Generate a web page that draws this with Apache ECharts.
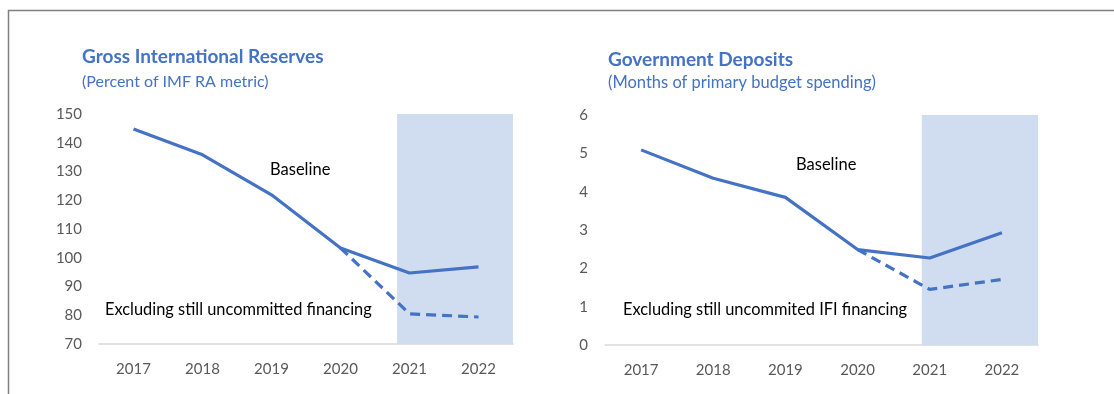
<!DOCTYPE html>
<html>
<head>
<meta charset="utf-8">
<script src="https://cdn.jsdelivr.net/npm/echarts@6/dist/echarts.min.js"></script>
<style>
html,body{margin:0;padding:0;background:#fff;}
#chart{width:1114px;height:394px;}
</style>
</head>
<body>
<div id="chart"></div>
<script>
// ---- data ----
var years = ['2017', '2018', '2019', '2020', '2021', '2022'];
var reservesBaseline = [144.8, 135.8, 121.9, 103.4, 94.7, 96.8];
var reservesExcluding = [null, null, null, 103.4, 80.5, 79.4];
var depositsBaseline = [5.09, 4.35, 3.85, 2.49, 2.27, 2.93];
var depositsExcluding = [null, null, null, 2.49, 1.45, 1.71];
// projection shading starts (in category-index units) and runs to the end
var reservesShadeStart = 3.82;
var depositsShadeStart = 3.89;

var BLUE = '#4472C4';
var FONT = 'Lato';
var chart = echarts.init(document.getElementById('chart'), null, {renderer: 'canvas'});

function catAxis(grid) {
  return {
    type: 'category', gridIndex: grid, data: years, boundaryGap: true,
    axisLine: {lineStyle: {color: '#D9D9D9', width: 1.5}},
    axisTick: {show: false},
    axisLabel: {color: '#595959', fontFamily: FONT, fontSize: 15, margin: 18}
  };
}
function valXAxis(grid) {
  return {type: 'value', gridIndex: grid, min: -0.5, max: 5.5, show: false};
}
function yAx(grid, min, max, step) {
  return {
    type: 'value', gridIndex: grid, min: min, max: max, interval: step,
    axisLine: {show: false}, axisTick: {show: false}, splitLine: {show: false},
    axisLabel: {color: '#595959', fontFamily: FONT, fontSize: 15, margin: 17}
  };
}
function shade(xi, yi, start) {
  return {
    type: 'line', xAxisIndex: xi, yAxisIndex: yi, data: [[start, null]], silent: true, z: 1,
    symbol: 'none',
    markArea: {silent: true, itemStyle: {color: '#D0DCF0'}, data: [[{xAxis: start}, {xAxis: 5.5}]]}
  };
}
function lineS(xi, yi, data, dashed) {
  return {
    type: 'line', xAxisIndex: xi, yAxisIndex: yi, data: data, symbol: 'none', z: 5,
    lineStyle: {color: BLUE, width: 3.2, type: dashed ? [10, 6] : 'solid', cap: 'butt'}
  };
}
function txt(x, y, s, opts) {
  return {type: 'text', x: x, y: y, style: Object.assign({text: s, fill: '#000', fontFamily: FONT, fontSize: 16, verticalAlign: 'middle'}, opts || {})};
}

var option = {
  backgroundColor: '#fff',
  animation: false,
  grid: [
    {left: 99, top: 114, width: 414, height: 230},
    {left: 605, top: 115, width: 433, height: 230}
  ],
  xAxis: [catAxis(0), catAxis(1), valXAxis(0), valXAxis(1)],
  yAxis: [yAx(0, 70, 150, 10), yAx(1, 0, 6, 1)],
  series: [
    shade(2, 0, reservesShadeStart),
    shade(3, 1, depositsShadeStart),
    lineS(0, 0, reservesBaseline, false),
    lineS(0, 0, reservesExcluding, true),
    lineS(1, 1, depositsBaseline, false),
    lineS(1, 1, depositsExcluding, true)
  ],
  graphic: [
    {type: 'line', shape: {x1: 8, y1: 10.5, x2: 1114, y2: 10.5}, style: {stroke: '#808080', lineWidth: 1.5}},
    {type: 'line', shape: {x1: 8.5, y1: 10, x2: 8.5, y2: 394}, style: {stroke: '#808080', lineWidth: 1.5}},
    txt(82, 57, 'Gross International Reserves', {fill: BLUE, fontWeight: 'bold', fontSize: 19}),
    txt(82, 82, '(Percent of IMF RA metric)', {fill: BLUE, fontSize: 16}),
    txt(608, 60, 'Government Deposits', {fill: BLUE, fontWeight: 'bold', fontSize: 19}),
    txt(608, 83, '(Months of primary budget spending)', {fill: BLUE, fontSize: 16.5}),
    txt(270, 170, 'Baseline', {fontSize: 16.5}),
    txt(105, 310, 'Excluding still uncommitted financing', {fontSize: 16.4}),
    txt(796, 165, 'Baseline', {fontSize: 16.5}),
    txt(623, 310, 'Excluding still uncommited IFI financing', {fontSize: 16.4})
  ]
};
chart.setOption(option);
</script>
</body>
</html>
